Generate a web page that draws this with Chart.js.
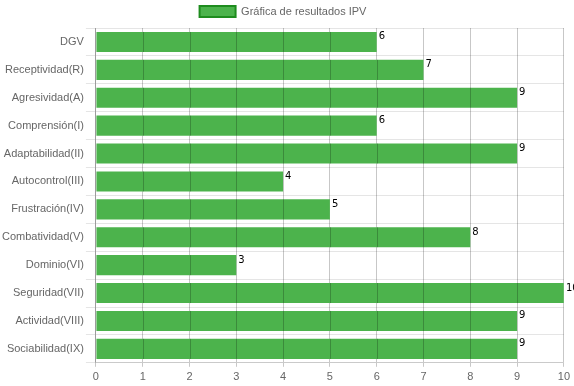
<!DOCTYPE html>
<html><head><meta charset="utf-8">
<script src="https://cdn.jsdelivr.net/npm/chart.js@4/dist/chart.umd.min.js"></script>
<style>html,body{margin:0;padding:0;background:#fff}</style>
</head><body>
<canvas id="c" width="574" height="386"></canvas>
<script>
const categories = ["DGV","Receptividad(R)","Agresividad(A)","Comprensión(I)","Adaptabilidad(II)","Autocontrol(III)","Frustración(IV)","Combatividad(V)","Dominio(VI)","Seguridad(VII)","Actividad(VIII)","Sociabilidad(IX)"];
const values = [6,7,9,6,9,4,5,8,3,10,9,9];
const seriesName = "Gráfica de resultados IPV";

Chart.defaults.font.family = "'Liberation Sans', Arial, sans-serif";
Chart.defaults.font.size = 11;
Chart.defaults.color = "#666";

const GRID_X = 'rgba(0,0,0,0.22)';

const legendGap = {
  id: 'legendGap',
  beforeUpdate(chart) {
    const lg = chart.legend;
    if (lg && !lg._patched) {
      const orig = lg.fit;
      lg.fit = function () { orig.apply(this, arguments); this.height += 1; };
      lg._patched = true;
    }
  }
};

const overlay = {
  id: 'overlay',
  afterDatasetsDraw(chart) {
    const ctx = chart.ctx;
    const meta = chart.getDatasetMeta(0);
    const xs = chart.scales.x;
    ctx.save();
    ctx.strokeStyle = GRID_X;
    ctx.lineWidth = 1;
    meta.data.forEach((bar) => {
      const top = bar.y - bar.height / 2, bot = bar.y + bar.height / 2;
      xs.ticks.forEach((t) => {
        const px = Math.round(xs.getPixelForValue(t.value)) + 0.5;
        if (px > xs.left + 1 && px < bar.x) {
          ctx.beginPath(); ctx.moveTo(px, top); ctx.lineTo(px, bot); ctx.stroke();
        }
      });
    });
    ctx.font = "10px 'DejaVu Sans', Verdana, sans-serif";
    ctx.fillStyle = "#000";
    ctx.textAlign = "left";
    ctx.textBaseline = "top";
    meta.data.forEach((bar, i) => {
      ctx.fillText(String(values[i]), bar.x + 2, bar.y - bar.height / 2);
    });
    ctx.restore();
  }
};

new Chart(document.getElementById('c'), {
  type: 'bar',
  data: {
    labels: categories,
    datasets: [{
      label: seriesName,
      data: values,
      backgroundColor: '#4CB34C',
      borderColor: '#1E8C1E',
      borderWidth: 0
    }]
  },
  options: {
    indexAxis: 'y',
    responsive: false,
    animation: false,
    layout: { padding: { right: 8, bottom: -2 } },
    plugins: {
      legend: {
        labels: {
          boxWidth: 36,
          boxHeight: 11,
          padding: 6,
          font: { size: 11 },
          generateLabels(chart) {
            const l = Chart.defaults.plugins.legend.labels.generateLabels(chart);
            l.forEach(x => { x.lineWidth = 2; x.strokeStyle = '#1E8C1E'; });
            return l;
          }
        }
      },
      tooltip: { enabled: false }
    },
    scales: {
      x: {
        min: 0, max: 10,
        ticks: { stepSize: 1, padding: 4 },
        grid: { color: GRID_X, tickLength: 4 },
        border: { color: 'rgba(0,0,0,0.12)' }
      },
      y: {
        ticks: { padding: 2 },
        grid: { color: 'rgba(0,0,0,0.1)', tickLength: 10 },
        border: { color: GRID_X }
      }
    }
  },
  plugins: [legendGap, overlay]
});
</script>
</body></html>
